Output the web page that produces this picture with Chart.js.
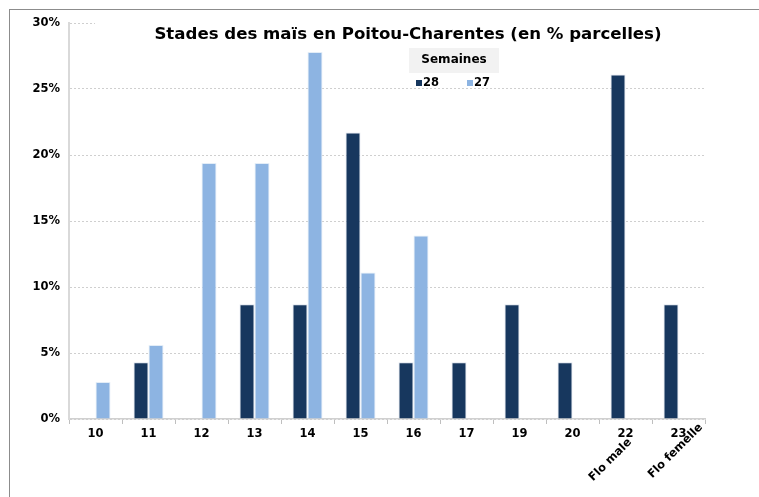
<!DOCTYPE html>
<html>
<head>
<meta charset="utf-8">
<script src="https://cdn.jsdelivr.net/npm/chart.js@4.4.1/dist/chart.umd.min.js"></script>
<style>
  html, body { margin: 0; padding: 0; background: #fff; }
  #wrap { width: 759px; height: 497px; position: relative; }
</style>
</head>
<body>
<div id="wrap"><canvas id="chart" width="759" height="497"></canvas></div>
<script>
// stades (semaine 28 / semaine 27), en % des parcelles
const categories = ['10', '11', '12', '13', '14', '15', '16', '17', '19', '20', '22', '23'];
const week28 = [null, 4.3, null, 8.7, 8.7, 21.7, 4.3, 4.3, 8.7, 4.3, 26.1, 8.7];
const week27 = [2.8, 5.6, 19.4, 19.4, 27.8, 11.1, 13.9, null, null, null, null, null];
const yTicks = [0, 5, 10, 15, 20, 25, 30];
const stageNotes = ['Flo male', 'Flo femelle'];
const stageNoteIndex = [10, 11];

const titleText = 'Stades des maïs en Poitou-Charentes (en % parcelles)';
const legendTitle = 'Semaines';
const FONT = '"DejaVu Sans", Verdana, sans-serif';

const decorPlugin = {
    id: 'decor',
    beforeDraw(chart) {
        const ctx = chart.ctx;
        ctx.save();
        ctx.fillStyle = '#fff';
        ctx.fillRect(0, 0, chart.width, chart.height);
        // frame (top + left only visible)
        ctx.fillStyle = '#8c8c8c';
        ctx.fillRect(9, 9, chart.width - 9, 1);
        ctx.fillRect(9, 9, 1, chart.height - 9);
        ctx.restore();
    },
    beforeDatasetsDraw(chart) {
        const ctx = chart.ctx;
        const area = chart.chartArea;
        ctx.save();
        // title box hides the top gridline
        ctx.fillStyle = '#fff';
        ctx.fillRect(95, area.top - 3, area.right - 95 + 1, 6);

        ctx.fillStyle = '#000';
        ctx.font = 'bold 16.6px ' + FONT;
        ctx.textAlign = 'center';
        ctx.textBaseline = 'middle';
        ctx.fillText(titleText, 408, 35);

        // legend
        ctx.fillStyle = '#f2f2f2';
        ctx.fillRect(409, 48, 90, 25);
        ctx.fillStyle = '#000';
        ctx.font = 'bold 12px ' + FONT;
        ctx.fillText(legendTitle, 454, 60);

        const items = chart.data.datasets.map(ds => ({ label: ds.label, color: ds.backgroundColor }));
        ctx.textAlign = 'left';
        ctx.font = 'bold 11.5px ' + FONT;
        items.forEach((it, i) => {
            const x = 416 + i * 51;
            ctx.fillStyle = it.color;
            ctx.fillRect(x, 80, 6, 6);
            ctx.fillStyle = '#000';
            ctx.fillText(it.label, x + 7, 83);
        });
        ctx.restore();
    },
    afterDraw(chart) {
        const ctx = chart.ctx;
        const xs = chart.scales.x;
        const offsets = [[-15, 460], [-3, 451]];
        ctx.save();
        ctx.fillStyle = '#000';
        ctx.font = 'bold 11.5px ' + FONT;
        ctx.textAlign = 'center';
        ctx.textBaseline = 'middle';
        stageNotes.forEach((txt, i) => {
            const x = xs.getPixelForValue(stageNoteIndex[i]) + offsets[i][0];
            ctx.save();
            ctx.translate(x, offsets[i][1]);
            ctx.rotate(-Math.PI / 4);
            ctx.fillText(txt, 0, 0);
            ctx.restore();
        });
        ctx.restore();
    }
};

new Chart(document.getElementById('chart').getContext('2d'), {
    type: 'bar',
    data: {
        labels: categories,
        datasets: [{
                label: '28',
                data: week28,
                backgroundColor: '#17375e',
                borderColor: 'rgba(200, 210, 225, 0.6)',
                borderWidth: 1
            },
            {
                label: '27',
                data: week27,
                backgroundColor: '#8db4e2',
                borderColor: 'rgba(220, 232, 245, 0.8)',
                borderWidth: 1
            }
        ]
    },
    options: {
        responsive: false,
        animation: false,
        datasets: {
            bar: {
                categoryPercentage: 0.566,
                barPercentage: 1
            }
        },
        layout: {
            padding: { top: 23, left: 9, right: 54, bottom: 0 }
        },
        plugins: {
            legend: { display: false },
            title: { display: false },
            tooltip: { enabled: false }
        },
        scales: {
            x: {
                offset: true,
                grid: {
                    offset: true,
                    drawOnChartArea: false,
                    drawTicks: true,
                    tickLength: 5,
                    color: '#bfbfbf'
                },
                border: { color: '#d0d0d0', width: 1.5 },
                ticks: {
                    padding: 3,
                    color: '#000',
                    font: { family: FONT, weight: 'bold', size: 11.5 },
                    maxRotation: 0
                },
                afterFit(scale) {
                    scale.height = 78;
                    scale.paddingLeft = 0;
                    scale.paddingRight = 0;
                }
            },
            y: {
                min: 0,
                max: 30,
                afterBuildTicks(scale) {
                    scale.ticks = yTicks.map(v => ({ value: v }));
                },
                grid: {
                    drawTicks: false,
                    color: '#cfcfcf',
                    lineWidth: 1
                },
                // v4: border.dash styles the gridlines
                border: { color: '#d9d9d9', width: 2, dash: [2, 2] },
                ticks: {
                    padding: 9,
                    color: '#000',
                    font: { family: FONT, weight: 'bold', size: 11.5 },
                    callback: v => v + '%'
                },
                afterFit(scale) {
                    scale.width = 60;
                    scale.paddingTop = 0;
                    scale.paddingBottom = 0;
                }
            }
        }
    },
    plugins: [decorPlugin]
});
</script>
</body>
</html>
